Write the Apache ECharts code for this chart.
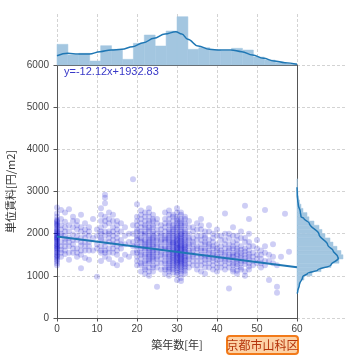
<!DOCTYPE html>
<html><head><meta charset="utf-8">
<script src="https://cdn.jsdelivr.net/npm/echarts@6/dist/echarts.min.js"></script>
<style>html,body{margin:0;padding:0;background:#fff}#c{width:360px;height:360px}</style>
</head><body><div id="c"></div>
<script>
// ---- data ----
const xTicks = [0, 10, 20, 30, 40, 50, 60];
const yTicks = [0, 1000, 2000, 3000, 4000, 5000, 6000];
const years = [0,1,2,3,4,5,6,7,8,9,10,11,12,13,14,15,16,17,18,19,20,21,22,23,24,25,26,27,28,29,30,31,32,33,34,35,36,37,38,39,40,41,42,43,44,45,46,47,48,49,50,51,52,53,54,55,56,57,58];
const rents = [
 [2620,2480,2400,2330,2280,2220,2170,2120,2060,2010,1960,1920,1870,1820,1760,1700,1630,1560,1480,1380,2200,1900,1650,1500],
 [2560,2350,2100,1950,1800,1620,1450],
 [2500,2280,2050,1880,1700,1520],
 [2580,2200,1900,1700,1380],
 [2400,2150,1980,1750,1550],
 [2300,2100,1850,1650,1450],
 [2450,2050,1900,1720,1500,1180],
 [2250,2000,1800,1600,1420],
 [2150,1950,1700,1380],
 [2350,1600],
 [2100,1750,980],
 [2600,2300,2150,2000,1850,1700,1550,1350],
 [2920,2850,2720,2400,2200,1950,1800,1600,1450],
 [2500,2250,2050,1900,1650,1400],
 [2450,2150,1950,1750,1550,1300],
 [2300,2100,1900,1700,1500,1250],
 [2250,1850,1650,1380],
 [2150,1750,1500],
 [2000,1450],
 [3290,2200,1800,1550],
 [2700,2400,2200,2050,1900,1750,1600,1450,1250],
 [2550,2350,2150,2000,1850,1700,1550,1400,1250,1100],
 [2500,2300,2150,2000,1850,1750,1650,1500,1350,1200,1050],
 [2600,2400,2250,2100,1950,1850,1750,1650,1550,1450,1350,1200,1000],
 [2450,2300,2150,2000,1900,1800,1700,1600,1500,1400,1250,1100],
 [2350,2100,1900,1750,1600,1450,1200,740],
 [2200,2000,1850,1700,1550,1400,1150],
 [2500,2250,2050,1900,1800,1650,1500,1350,1200,1050],
 [2550,2350,2200,2050,1950,1850,1750,1650,1550,1450,1350,1250,1150,1000],
 [2450,2300,2150,2050,1950,1850,1780,1700,1620,1540,1460,1380,1300,1200,1080],
 [2600,2400,2300,2200,2100,2000,1920,1850,1780,1720,1660,1600,1540,1480,1420,1360,1300,1220,1130,1020],
 [2500,2350,2250,2150,2050,1980,1900,1830,1760,1700,1640,1580,1520,1460,1400,1340,1280,1200,1100,950],
 [2400,2250,2100,2000,1900,1800,1720,1650,1580,1500,1420,1350,1270,1180,1050],
 [2300,2000,1850,1700,1550,1400,1200],
 [2150,1900,1750,1600,1450,1250],
 [2250,1950,1700,1550,1350,1150],
 [2350,2100,1850,1650,1500,1350,1100],
 [2050,1900,1750,1600,1450,1300,1050],
 [2200,1850,1700,1550,1400,1200],
 [2000,1800,1650,1500,1350,1150],
 [2100,1750,1600,1450,1300,1100],
 [1950,1700,1550,1400,1200],
 [2480,1850,1650,1500,1350,1150],
 [2000,1750,1600,1450,1300,700],
 [2150,1800,1650,1500,1380,1250,1100],
 [1950,1750,1600,1480,1350,1220,1050],
 [2050,1700,1550,1420,1300,1150],
 [2660,1900,1650,1500,1350,1000],
 [2350,1800,1600,1450,1300,1150],
 [1700,1450,1250],
 [1850,1500,1300],
 [1600,1400,1200],
 [2560,1700,1350],
 [1500,900],
 [1750,1300],
 [740,600],
 [1450],
 [2470],
 [1570]
];
const rentsMore = [
 [2300,2250,2100,2050,1990,1950,1900,1850,1800,1750,1720,1680,1600,1550,1450,1420,1350,1300,1250],
 [2200,2000,1700,1550],
 [2150,1950,1800,1600],
 [2050,1800,1550],
 [2300,1850,1650],
 [2200,1950,1550],
 [2150,1800,1600],
 [2100,1900,1700],
 [2050,1800,1600],
 [1900],
 [1950,1650],
 [2450,2050,1900,1600],
 [2300,2050,1700,1550],
 [2350,2000,1800,1550],
 [2300,2050,1850,1650],
 [2200,2000,1800,1600],
 [2050,1750],
 [1950],
 [1800],
 [2000,1700],
 [2300,2100,1950,1850,1700,1550,1350],
 [2450,2250,2050,1900,1800,1650,1500,1300],
 [2400,2200,2050,1950,1800,1700,1600,1450,1300,1150],
 [2500,2300,2150,2050,1900,1800,1700,1600,1500,1400,1300,1100],
 [2350,2200,2050,1950,1850,1750,1650,1550,1450,1350,1200],
 [2250,2000,1850,1700,1550,1400,1300],
 [2100,1950,1800,1650,1500,1300],
 [2350,2150,1950,1850,1700,1600,1450,1300,1150],
 [2450,2250,2100,2000,1900,1800,1700,1600,1500,1400,1300,1200,1100],
 [2400,2200,2100,2000,1900,1800,1750,1650,1580,1500,1420,1340,1250,1150],
 [2500,2350,2250,2150,2050,1950,1880,1820,1750,1690,1630,1570,1510,1450,1390,1330,1260,1180,1080,900],
 [2450,2300,2200,2100,2000,1940,1870,1800,1730,1670,1610,1550,1490,1430,1370,1310,1240,1150,1050,880],
 [2350,2200,2050,1950,1850,1760,1680,1620,1540,1460,1380,1300,1220,1120],
 [2150,1900,1750,1600,1450,1300],
 [2050,1800,1650,1500,1350],
 [2100,1850,1650,1450,1250],
 [2200,1950,1750,1600,1450,1250],
 [1950,1800,1650,1500,1380,1200],
 [2050,1750,1600,1450,1300],
 [1900,1700,1550,1420,1250],
 [1950,1650,1500,1380,1200],
 [1850,1600,1450,1300],
 [2000,1750,1550,1400,1250],
 [1900,1650,1500,1380,1200],
 [1950,1700,1550,1450,1300,1150],
 [1850,1650,1520,1400,1280,1120],
 [1900,1620,1480,1350,1200],
 [1800,1580,1420,1280,1100],
 [2000,1700,1520,1380,1220],
 [1550,1350],
 [1650,1400],
 [1500,1300],
 [1550,1250],
 [1350],
 [1450],
 [1250],
 [],
 [],
 []
];
const slope = -12.12;
const intercept = 1932.83;
const equationText = 'y=-12.12x+1932.83';
// top marginal histogram (22 bins over 0..60) and its KDE
const topRange = [0, 60];
const topCounts = [20.7,10,11.7,4,19.3,15.7,5.7,21.7,30,19,34,48.3,15.7,17.3,15,14,16.7,15,8,5,2.5,1.2];
const topKde = [[0,9.3],[2.7,11.7],[5.3,11],[8.1,11],[10.75,13.3],[13.5,15],[16.2,15.7],[18.9,18.3],[21.6,22.3],[24.25,26.7],[27,31],[29.7,33.3],[31.2,31],[32.7,25.7],[35.3,19],[38.1,15.7],[40.75,15],[43.5,15],[46.2,13.3],[48.9,10],[51.6,6.7],[54.25,4],[57,2.3],[60,0.8]];
// right marginal histogram (bin edges, width 100) and its KDE
const rightEdges = [600,700,800,900,1000,1100,1200,1300,1400,1500,1600,1700,1800,1900,2000,2100,2200,2300,2400,2500,2600,2700,2800,2900,3000,3100,3200,3300];
const rightCounts = [0.5,1.5,3,7,15,24,34,42,46,44,40,36,33,28,25,22,17,12,10,6,4,2.5,1.5,1,0.5,0.3,0.3];
const rightKde = [[0,580],[0.7,624],[2.3,783],[5.7,980],[10.7,1060],[20.7,1138],[34,1257],[41.3,1416],[40.7,1455],[36,1600],[30.7,1731],[22,1985],[12.3,2245],[6.7,2364],[4,2403],[3.3,2521],[1.3,2680],[0.7,2798],[0.3,2900],[0,3100]];
const areaLabel = '京都市山科区';
const xName = '築年数[年]';
const yName = '単位賃料[円/m2]';

// ---- build ----
const scatterData = [];
years.forEach((yr, i) => {
  rents[i].forEach(v => scatterData.push([yr, v]));
  rentsMore[i].forEach(v => scatterData.push([yr, v]));
});
const bw = (topRange[1] - topRange[0]) / topCounts.length;
const topData = topCounts.map((c, i) => [topRange[0] + i * bw, topRange[0] + (i + 1) * bw, c]);
const rightData = rightCounts.map((c, i) => [rightEdges[i], rightEdges[i + 1], c]);
const x0 = xTicks[0], x1 = xTicks[xTicks.length - 1];
const regData = [[x0, intercept + slope * x0], [x1, intercept + slope * x1]];

const histColor = '#a3c6e0';
const lineColor = '#1f77b4';
const gridLine = { show: true, lineStyle: { color: '#c8c8c8', type: [3, 2], width: 0.8 } };
const fontFam = '"Liberation Sans", Arial, sans-serif';
const cjk = '"Noto Sans CJK JP", sans-serif';
const plain = v => String(v);

const chart = echarts.init(document.getElementById('c'), null, { renderer: 'canvas' });
chart.setOption({
  animation: false,
  grid: [
    { left: 57, top: 65, width: 240, height: 253, containLabel: false, outerBoundsMode: 'none' },
    { left: 57, top: 14, width: 240, height: 51, containLabel: false, outerBoundsMode: 'none' },
    { left: 297, top: 65, width: 50, height: 253, containLabel: false, outerBoundsMode: 'none' }
  ],
  xAxis: [
    { gridIndex: 0, type: 'value', min: x0, max: x1, interval: 10,
      name: xName, nameLocation: 'middle', nameGap: 19,
      nameTextStyle: { fontFamily: cjk, fontSize: 11, color: '#333' },
      axisLine: { show: true, lineStyle: { color: '#555', width: 1 } },
      axisTick: { show: true, length: 3.5, lineStyle: { color: '#555' } },
      axisLabel: { fontFamily: fontFam, fontSize: 10, color: '#444', margin: 6, formatter: plain },
      splitLine: gridLine },
    { gridIndex: 1, type: 'value', min: 0, max: 60, interval: 10,
      axisLine: { show: true, lineStyle: { color: '#555', width: 1 } },
      axisTick: { show: false }, axisLabel: { show: false }, splitLine: gridLine },
    { gridIndex: 2, type: 'value', min: 0, max: 50,
      axisLine: { show: false }, axisTick: { show: false }, axisLabel: { show: false }, splitLine: { show: false } }
  ],
  yAxis: [
    { gridIndex: 0, type: 'value', min: yTicks[0], max: yTicks[yTicks.length - 1], interval: 1000,
      name: yName, nameLocation: 'middle', nameGap: 37,
      nameTextStyle: { fontFamily: cjk, fontSize: 11, color: '#333' },
      axisLine: { show: true, lineStyle: { color: '#555', width: 1 } },
      axisTick: { show: true, length: 3.5, lineStyle: { color: '#555' } },
      axisLabel: { fontFamily: fontFam, fontSize: 10, color: '#444', margin: 8, formatter: plain },
      splitLine: gridLine },
    { gridIndex: 1, type: 'value', min: 0, max: 51,
      axisLine: { show: false }, axisTick: { show: false }, axisLabel: { show: false }, splitLine: { show: false } },
    { gridIndex: 2, type: 'value', min: 0, max: 6000, interval: 1000,
      axisLine: { show: true, lineStyle: { color: '#555', width: 1 } },
      axisTick: { show: false }, axisLabel: { show: false }, splitLine: gridLine }
  ],
  series: [
    { type: 'scatter', xAxisIndex: 0, yAxisIndex: 0, data: scatterData, symbolSize: 6,
      itemStyle: { color: 'rgba(0,0,205,0.24)' }, z: 2 },
    { type: 'line', xAxisIndex: 0, yAxisIndex: 0, data: regData, symbol: 'none',
      lineStyle: { color: lineColor, width: 2 }, z: 3 },
    { type: 'custom', xAxisIndex: 1, yAxisIndex: 1, data: topData, encode: { x: [0, 1], y: 2 },
      renderItem: (params, api) => {
        const a = api.coord([api.value(0), api.value(2)]);
        const b = api.coord([api.value(1), 0]);
        return { type: 'rect', shape: { x: a[0], y: a[1], width: b[0] - a[0], height: b[1] - a[1] },
          style: { fill: histColor, stroke: histColor, lineWidth: 0.5 } };
      }, z: 1 },
    { type: 'line', xAxisIndex: 1, yAxisIndex: 1, data: topKde, symbol: 'none', smooth: 0.4, smoothMonotone: 'x',
      lineStyle: { color: lineColor, width: 1.5 }, z: 3 },
    { type: 'custom', xAxisIndex: 2, yAxisIndex: 2, data: rightData, encode: { y: [0, 1], x: 2 },
      renderItem: (params, api) => {
        const tr = api.coord([api.value(2), api.value(1)]);
        const bl = api.coord([0, api.value(0)]);
        return { type: 'rect', shape: { x: bl[0], y: tr[1], width: tr[0] - bl[0], height: bl[1] - tr[1] },
          style: { fill: histColor, stroke: histColor, lineWidth: 0.5 } };
      }, z: 1 },
    { type: 'line', xAxisIndex: 2, yAxisIndex: 2, data: rightKde, symbol: 'none', smooth: 0.4, smoothMonotone: 'y',
      lineStyle: { color: lineColor, width: 1.5 }, z: 3 }
  ],
  graphic: [
    { type: 'text', left: 64, top: 66, z: 10,
      style: { text: equationText, fontFamily: fontFam, fontSize: 11, fill: '#3838c8' } },
    { type: 'group', left: 226, top: 335, z: 10, children: [
      { type: 'rect', shape: { x: 0, y: 0, width: 71, height: 18, r: 3 },
        style: { fill: '#fdd2a6', stroke: '#f27a1a', lineWidth: 2 } },
      { type: 'text', x: 35.5, y: 9, style: { text: areaLabel, fontFamily: cjk, fontSize: 12,
        fill: '#b5350c', align: 'center', verticalAlign: 'middle' } }
    ] }
  ]
});
</script></body></html>
